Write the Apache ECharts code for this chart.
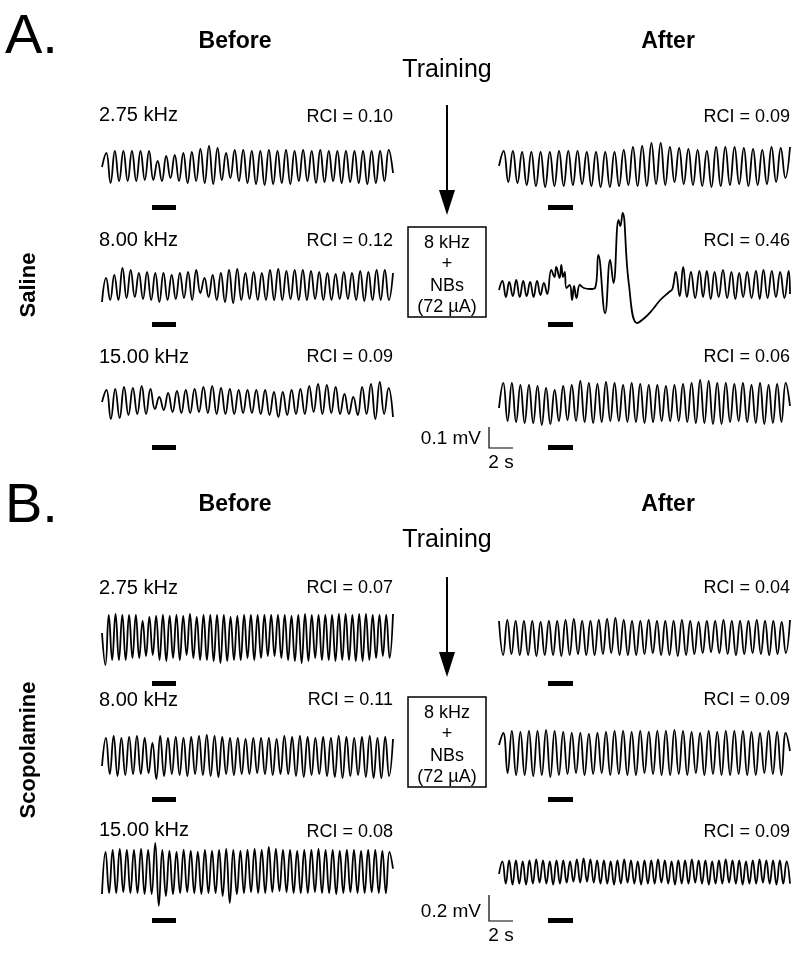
<!DOCTYPE html>
<html>
<head>
<meta charset="utf-8">
<script src="https://cdn.jsdelivr.net/npm/echarts@6/dist/echarts.min.js"></script>
<style>
  html, body { margin: 0; padding: 0; background: #fff; }
  #chart { width: 800px; height: 954px; }
</style>
</head>
<body>
<div id="chart"></div>
<script>
// Trace data: successive peaks/troughs (units ~ px of deflection, up = positive).
const FREQS = ['2.75 kHz', '8.00 kHz', '15.00 kHz'];
const RCI_A_BEFORE = ['0.10', '0.12', '0.09'];
const RCI_A_AFTER = ['0.09', '0.46', '0.06'];
const RCI_B_BEFORE = ['0.07', '0.11', '0.08'];
const RCI_B_AFTER = ['0.04', '0.09', '0.09'];
const TRACE_SECONDS = 24;

const A_BEFORE_275 = [0, 14, -16, 16, -14, 16, -14, 16, -14, 16, -13, 16, -13, 6, -14, 11, -11, 12, -14, 14, -16, 15, -14, 18, -16, 21, -17, 19, -13, 14, -11, 17, -14, 17, -16, 16, -17, 16, -18, 17, -17, 16, -16, 17, -17, 16, -14, 17, -14, 16, -16, 17, -15, 16, -14, 16, -16, 16, -15, 16, -16, 16, -17, 16, -16, 16, -14, 17, -6];
const A_BEFORE_800 = [-16, 8, -14, 11, -14, 18, -12, 16, -11, 13, -13, 14, -14, 13, -16, 13, -14, 11, -13, 13, -12, 14, -14, 16, -7, 8, -11, 11, -14, 13, -16, 16, -17, 17, -14, 13, -13, 14, -14, 13, -14, 16, -14, 17, -14, 15, -13, 16, -14, 16, -14, 15, -13, 14, -14, 13, -14, 12, -13, 14, -13, 13, -14, 15, -15, 14, -14, 16, -14, 16, -14, 13];
const A_BEFORE_1500 = [0, 12, -17, 13, -16, 15, -13, 14, -12, 16, -12, 13, -7, 5, -8, 9, -10, 11, -11, 12, -11, 13, -10, 15, -11, 16, -12, 14, -12, 13, -12, 12, -11, 12, -11, 12, -12, 12, -13, 10, -15, 10, -13, 12, -12, 13, -12, 16, -10, 18, -12, 17, -11, 15, -12, 8, -12, 5, -13, 15, -12, 18, -17, 20, -12, 14, -15];
const A_AFTER_275 = [2, 17, -14, 17, -15, 16, -17, 16, -18, 16, -19, 16, -18, 17, -18, 17, -17, 17, -16, 16, -18, 16, -19, 16, -19, 16, -18, 18, -17, 21, -18, 22, -18, 25, -16, 25, -17, 21, -14, 20, -16, 19, -17, 18, -18, 17, -19, 21, -18, 21, -17, 21, -16, 20, -18, 19, -17, 18, -16, 21, -14, 20, -10, 21];
// 8 kHz after saline training: irregular, so kept as [time s, value] pairs
const A_AFTER_800 = [
  [0, -2], [0.28, 7], [0.57, -9], [0.85, 6], [1.14, -8], [1.42, 8], [1.71, -9], [2.0, 7], [2.28, -8], [2.57, 6],
  [2.85, -9], [3.14, 7], [3.42, -7], [3.7, 5], [3.98, -6], [4.31, 18], [4.58, 11], [4.72, 21], [5.0, 10], [5.14, 23],
  [5.28, 11], [5.42, 16], [5.56, 0], [5.83, 3], [6.03, -12], [6.19, 2], [6.39, -10], [6.67, 3], [7.0, 0], [7.5, -1],
  [7.92, 0], [8.19, 33], [8.75, -25], [9.17, 28], [9.44, 5], [9.86, 68], [10.0, 62], [10.19, 75], [10.7, 5], [11.39, -35],
  [12.0, -30], [12.64, -22], [13.3, -12], [14.03, -4], [14.3, -1], [14.58, 16], [14.9, -8], [15.19, 21], [15.5, -9], [15.83, 16],
  [16.18, -10], [16.53, 17], [16.83, -9], [17.14, 17], [17.46, -11], [17.78, 16], [18.12, -9], [18.47, 18], [18.82, -10], [19.17, 16],
  [19.49, -11], [19.81, 15], [20.14, -9], [20.47, 16], [20.83, -10], [21.19, 17], [21.5, -11], [21.81, 18], [22.15, -10], [22.5, 17],
  [22.84, -9], [23.19, 16], [23.54, -10], [23.89, 17], [24.0, -6],
];
const A_AFTER_1500 = [-5, 20, -18, 20, -19, 18, -20, 18, -20, 17, -22, 15, -21, 13, -18, 17, -17, 18, -18, 22, -19, 20, -20, 19, -19, 21, -18, 20, -18, 18, -19, 20, -19, 19, -20, 18, -19, 18, -18, 17, -18, 18, -18, 19, -19, 20, -20, 23, -20, 22, -21, 20, -21, 20, -19, 19, -18, 20, -19, 18, -20, 20, -21, 18, -20, 19, -19, 20, -3];

const B_BEFORE_275 = [5, -27, 23, -22, 24, -22, 23, -22, 23, -20, 23, -20, 17, -18, 21, -17, 22, -22, 23, -23, 22, -20, 23, -22, 22, -17, 24, -20, 21, -22, 23, -22, 23, -23, 23, -25, 23, -23, 21, -22, 22, -22, 23, -20, 23, -22, 23, -20, 23, -18, 23, -18, 23, -20, 23, -22, 22, -23, 23, -25, 24, -23, 23, -20, 23, -22, 23, -22, 23, -23, 24, -22, 24, -22, 23, -23, 24, -23, 24, -22, 23, -20, 23, -18, 23, -20, 24];
const B_BEFORE_800 = [-9, 19, -17, 21, -19, 19, -18, 20, -17, 21, -17, 19, -16, 14, -22, 21, -19, 19, -17, 20, -18, 19, -19, 20, -17, 21, -18, 22, -19, 21, -20, 20, -17, 19, -18, 19, -17, 18, -17, 19, -16, 19, -17, 19, -18, 18, -17, 21, -17, 20, -19, 21, -20, 20, -18, 19, -17, 20, -19, 19, -20, 21, -21, 20, -19, 19, -18, 20, -20, 21, -21, 19, -21, 20, -19, 18];
const B_BEFORE_1500 = [-24, 19, -23, 21, -23, 22, -22, 21, -23, 21, -23, 22, -24, 21, -24, 28, -36, 21, -26, 20, -24, 19, -23, 21, -22, 20, -23, 19, -24, 21, -23, 20, -23, 21, -26, 22, -33, 21, -24, 20, -23, 21, -22, 22, -23, 21, -23, 24, -22, 22, -21, 21, -22, 21, -23, 20, -23, 21, -23, 21, -22, 22, -23, 21, -23, 21, -24, 20, -23, 21, -22, 21, -23, 20, -23, 21, -22, 21, -23, 20, -23, 19, 2];
const B_AFTER_275 = [17, -17, 18, -16, 17, -17, 17, -17, 17, -18, 16, -17, 17, -17, 17, -18, 18, -17, 19, -16, 17, -17, 17, -17, 18, -16, 19, -15, 20, -17, 18, -17, 17, -17, 17, -16, 18, -15, 17, -17, 17, -17, 17, -18, 18, -17, 17, -16, 16, -15, 17, -14, 17, -15, 18, -16, 17, -17, 17, -16, 17, -15, 18, -16, 17, -17, 17, -16, 16, -15, 18];
const B_AFTER_800 = [8, 20, -20, 22, -22, 21, -22, 22, -23, 22, -22, 23, -24, 22, -22, 21, -21, 20, -20, 20, -22, 19, -21, 20, -20, 21, -22, 22, -21, 22, -22, 21, -22, 22, -20, 21, -21, 22, -22, 22, -22, 23, -21, 22, -22, 21, -20, 20, -22, 22, -21, 21, -22, 22, -22, 22, -21, 22, -22, 21, -22, 20, -20, 22, -21, 21, -22, 20, 2];
const B_AFTER_1500 = [-2, 11, -12, 12, -13, 12, -12, 11, -13, 12, -12, 13, -11, 12, -12, 11, -13, 12, -12, 12, -11, 11, -10, 13, -11, 14, -10, 13, -11, 12, -12, 12, -12, 11, -13, 12, -12, 13, -11, 12, -12, 11, -13, 12, -12, 12, -12, 13, -11, 12, -12, 11, -13, 12, -12, 12, -12, 13, -11, 12, -12, 12, -13, 11, -12, 12, -12, 13, -11, 12, -12, 12, -13, 11, -12, 12, -12, 13, -11, 12, -12, 12, -13, 12, -12, 11, -12];

// layout (px)
const FONT = '"Liberation Sans", Arial, sans-serif';
const LEFT_X = 102, RIGHT_X = 499, TRACE_W = 291, HALF = 85;
const PANELS = [
  {
    letter: 'A.', letterY: 38, headY: 42, trainY: 70, group: 'Saline', groupY: 285,
    labelY: [115, 240, 357], rciY: [117, 241, 357],
    leftY: [167, 286, 402], rightY: [168, 288, 403], barY: [205, 322, 445],
    arrow: [105, 215], box: 227, scaleY: [427, 448], scaleText: '0.1 mV',
    before: [A_BEFORE_275, A_BEFORE_800, A_BEFORE_1500],
    after: [A_AFTER_275, A_AFTER_800, A_AFTER_1500],
    rciBefore: RCI_A_BEFORE, rciAfter: RCI_A_AFTER,
  },
  {
    letter: 'B.', letterY: 507, headY: 505, trainY: 540, group: 'Scopolamine', groupY: 750,
    labelY: [588, 700, 830], rciY: [588, 700, 832],
    leftY: [638, 757, 872], rightY: [638, 753, 875], barY: [681, 797, 918],
    arrow: [577, 677], box: 697, scaleY: [895, 921], scaleText: '0.2 mV',
    before: [B_BEFORE_275, B_BEFORE_800, B_BEFORE_1500],
    after: [B_AFTER_275, B_AFTER_800, B_AFTER_1500],
    rciBefore: RCI_B_BEFORE, rciAfter: RCI_B_AFTER,
  },
];

const toPairs = (arr) => typeof arr[0] === 'number'
  ? arr.map((v, i) => [TRACE_SECONDS * i / (arr.length - 1), v])
  : arr;

const grid = [], xAxis = [], yAxis = [], series = [], graphic = [];

function text(x, y, str, font, align, extra) {
  graphic.push(Object.assign({
    type: 'text', x, y, silent: true,
    style: { text: str, font, fill: '#000', textAlign: align || 'left', textVerticalAlign: 'middle' },
  }, extra || {}));
}
function rect(x, y, w, h, fill) {
  graphic.push({
    type: 'rect', silent: true, shape: { x, y, width: w, height: h },
    style: fill ? { fill: '#000' } : { fill: 'none', stroke: '#000', lineWidth: 1.5 },
  });
}
function addTrace(x, cy, data) {
  const idx = grid.length;
  grid.push({ left: x, top: cy - HALF, width: TRACE_W, height: HALF * 2 });
  xAxis.push({ type: 'value', gridIndex: idx, min: 0, max: TRACE_SECONDS, show: false });
  yAxis.push({ type: 'value', gridIndex: idx, min: -HALF, max: HALF, show: false });
  series.push({
    type: 'line', xAxisIndex: idx, yAxisIndex: idx, data: toPairs(data),
    showSymbol: false, smooth: 0.45, silent: true,
    lineStyle: { color: '#000', width: 1.8 },
  });
}

PANELS.forEach((p) => {
  text(5, p.letterY, p.letter, '56px ' + FONT);
  text(235, p.headY, 'Before', 'bold 23px ' + FONT, 'center');
  text(668, p.headY, 'After', 'bold 23px ' + FONT, 'center');
  text(447, p.trainY, 'Training', '25px ' + FONT, 'center');
  text(29, p.groupY, p.group, 'bold 22px ' + FONT, 'center', { rotation: Math.PI / 2 });

  for (let r = 0; r < 3; r++) {
    text(99, p.labelY[r], FREQS[r], '20px ' + FONT);
    text(393, p.rciY[r], 'RCI = ' + p.rciBefore[r], '18px ' + FONT, 'right');
    text(790, p.rciY[r], 'RCI = ' + p.rciAfter[r], '18px ' + FONT, 'right');
    addTrace(LEFT_X, p.leftY[r], p.before[r]);
    addTrace(RIGHT_X, p.rightY[r], p.after[r]);
    rect(152, p.barY[r], 24, 5, true);
    rect(548, p.barY[r], 25, 5, true);
  }

  // training arrow + stimulus box
  graphic.push({
    type: 'line', silent: true,
    shape: { x1: 447, y1: p.arrow[0], x2: 447, y2: p.arrow[1] - 22 },
    style: { stroke: '#000', lineWidth: 2 },
  });
  graphic.push({
    type: 'polygon', silent: true,
    shape: { points: [[439, p.arrow[1] - 25], [455, p.arrow[1] - 25], [447, p.arrow[1]]] },
    style: { fill: '#000' },
  });
  rect(408, p.box, 78, 90, false);
  ['8 kHz', '+', 'NBs', '(72 µA)'].forEach((s, i) => {
    text(447, p.box + 16 + i * 21.5, s, '18px ' + FONT, 'center');
  });

  // scale bar
  graphic.push({
    type: 'polyline', silent: true,
    shape: { points: [[489, p.scaleY[0]], [489, p.scaleY[1]], [513, p.scaleY[1]]] },
    style: { stroke: '#000', lineWidth: 1.2, fill: 'none' },
  });
  text(481, p.scaleY[1] - 9, p.scaleText, '19px ' + FONT, 'right');
  text(501, p.scaleY[1] + 15, '2 s', '19px ' + FONT, 'center');
});

const chart = echarts.init(document.getElementById('chart'));
chart.setOption({
  animation: false,
  backgroundColor: '#fff',
  grid, xAxis, yAxis, series, graphic,
});
</script>
</body>
</html>
